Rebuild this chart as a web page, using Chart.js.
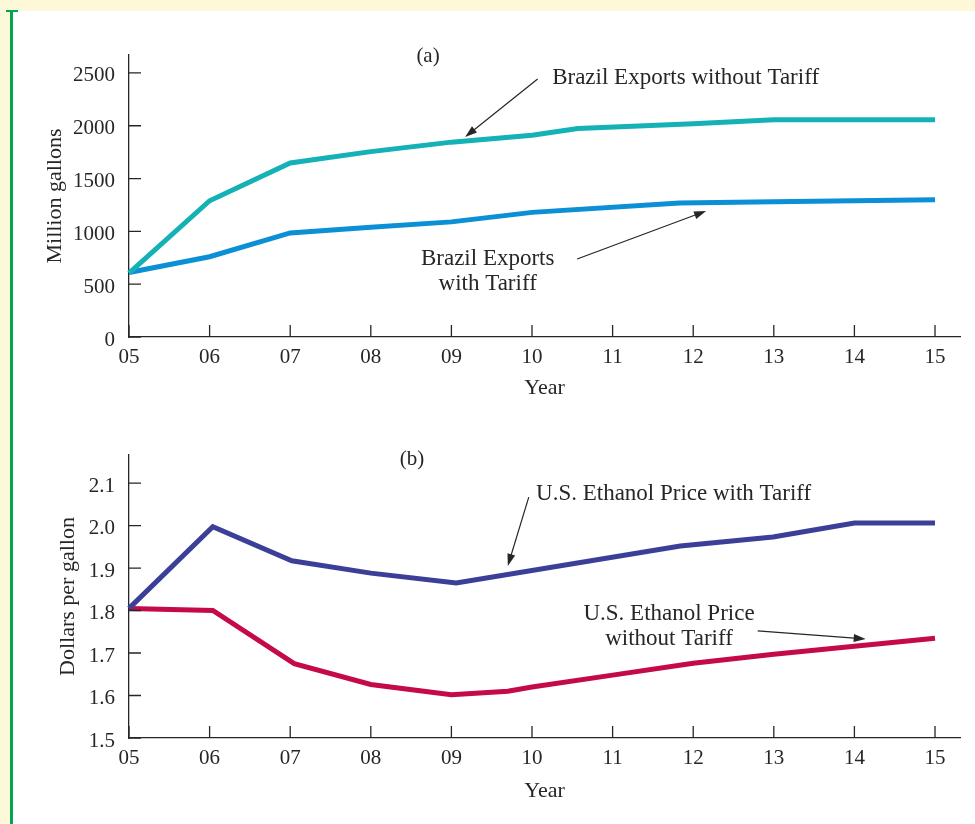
<!DOCTYPE html>
<html>
<head>
<meta charset="utf-8">
<script src="https://cdn.jsdelivr.net/npm/chart.js@4.4.0/dist/chart.umd.min.js"></script>
<style>
  html, body { margin: 0; padding: 0; }
  body { width: 975px; height: 824px; background: #fdf8d7; position: relative; overflow: hidden; }
  #panel { position: absolute; left: 13px; top: 11px; right: 0; bottom: 0; background: #fff; }
  #rule { position: absolute; left: 10px; top: 10px; width: 3px; bottom: 0; background: #00a651; }
  #cap { position: absolute; left: 6px; top: 10px; width: 12px; height: 2px; background: #00a651; }
  canvas { position: absolute; left: 0; }
  #chartA { top: 0; }
  #chartB { top: 412px; }
</style>
</head>
<body>
<div id="panel"></div>
<div id="rule"></div>
<div id="cap"></div>
<canvas id="chartA" width="975" height="412"></canvas>
<canvas id="chartB" width="975" height="412"></canvas>
<script>
// x axis: years 2005-2015
const yearTicks = [5, 6, 7, 8, 9, 10, 11, 12, 13, 14, 15];
const yearLabels = ["05", "06", "07", "08", "09", "10", "11", "12", "13", "14", "15"];

// (a) Brazil exports, million gallons
const exportTicks = [0, 500, 1000, 1500, 2000, 2500];
const noTariffYears = [5, 6, 7, 8, 9, 10, 10.57, 12, 13, 14, 15];
const noTariffExports = [605, 1290, 1648, 1755, 1845, 1910, 1975, 2020, 2058, 2058, 2058];
const tariffYears = [5, 6, 7, 8, 9, 10, 11.83, 13, 15];
const tariffExports = [610, 760, 985, 1040, 1090, 1180, 1268, 1280, 1300];

// (b) U.S. ethanol price, dollars per gallon
const priceTicks = [1.5, 1.6, 1.7, 1.8, 1.9, 2.0, 2.1];
const priceTariffYears = [5, 6.04, 7.02, 8, 9.06, 11.84, 12.99, 14, 15];
const priceTariff = [1.805, 1.997, 1.917, 1.888, 1.865, 1.952, 1.973, 2.006, 2.006];
const priceFreeYears = [5, 6.04, 7.05, 8, 9, 9.7, 10, 11, 12, 13, 14, 15];
const priceFree = [1.805, 1.8, 1.675, 1.626, 1.602, 1.61, 1.62, 1.648, 1.676, 1.697, 1.716, 1.735];

const FONT = "'Liberation Serif', 'Times New Roman', serif";
const INK = "#262626";

const pairs = (xs, ys) => xs.map((x, i) => ({ x: x, y: ys[i] }));

// tick marks point into the plot
const insideTicks = {
    id: "insideTicks",
    afterDraw(chart) {
        const { ctx, scales: { x, y }, chartArea: a } = chart;
        ctx.save();
        ctx.strokeStyle = INK;
        ctx.lineWidth = 1.3;
        ctx.beginPath();
        x.ticks.forEach(t => {
            const px = x.getPixelForValue(t.value);
            ctx.moveTo(px, a.bottom);
            ctx.lineTo(px, a.bottom - 12);
        });
        y.ticks.forEach(t => {
            const py = y.getPixelForValue(t.value);
            ctx.moveTo(a.left, py);
            ctx.lineTo(a.left + 12, py);
        });
        ctx.stroke();
        ctx.restore();
    }
};

// labels and arrows, placed in data units
function notes(texts, arrows) {
    return {
        id: "notes",
        afterDraw(chart) {
            const { ctx, scales: { x, y } } = chart;
            ctx.save();
            ctx.fillStyle = INK;
            ctx.strokeStyle = INK;
            ctx.textBaseline = "middle";
            texts.forEach(t => {
                ctx.font = (t.size || 23) + "px " + FONT;
                ctx.textAlign = t.align || "center";
                ctx.fillText(t.text, x.getPixelForValue(t.x), y.getPixelForValue(t.y));
            });
            arrows.forEach(a => {
                const x1 = x.getPixelForValue(a.from[0]), y1 = y.getPixelForValue(a.from[1]);
                const x2 = x.getPixelForValue(a.to[0]), y2 = y.getPixelForValue(a.to[1]);
                const ang = Math.atan2(y2 - y1, x2 - x1);
                ctx.lineWidth = 1.2;
                ctx.beginPath();
                ctx.moveTo(x1, y1);
                ctx.lineTo(x2 - 8 * Math.cos(ang), y2 - 8 * Math.sin(ang));
                ctx.stroke();
                ctx.beginPath();
                ctx.moveTo(x2, y2);
                ctx.lineTo(x2 - 12 * Math.cos(ang) + 4 * Math.sin(ang), y2 - 12 * Math.sin(ang) - 4 * Math.cos(ang));
                ctx.lineTo(x2 - 12 * Math.cos(ang) - 4 * Math.sin(ang), y2 - 12 * Math.sin(ang) + 4 * Math.cos(ang));
                ctx.closePath();
                ctx.fill();
            });
            ctx.restore();
        }
    };
}

function line(data, color) {
    return {
        data: data,
        borderColor: color,
        borderWidth: 5,
        pointRadius: 0,
        tension: 0,
        borderCapStyle: "butt",
        borderJoinStyle: "miter",
        clip: false
    };
}

function makeChart(id, opts) {
    return new Chart(document.getElementById(id), {
        type: "line",
        data: { datasets: opts.datasets },
        options: {
            responsive: false,
            animation: false,
            layout: { padding: { top: opts.top, right: 15, left: 0, bottom: 0 } },
            plugins: { legend: { display: false }, tooltip: { enabled: false } },
            scales: {
                x: {
                    type: "linear",
                    min: 5,
                    max: 15.31,
                    afterBuildTicks: s => { s.ticks = yearTicks.map(v => ({ value: v })); },
                    afterFit: s => { s.height = opts.xHeight; },
                    grid: { display: false, drawTicks: false },
                    border: { display: true, color: INK, width: 1.3 },
                    ticks: {
                        color: INK,
                        font: { family: FONT, size: 21 },
                        padding: 8,
                        maxRotation: 0,
                        callback: (v, i) => yearLabels[i]
                    },
                    title: {
                        display: true,
                        text: "Year",
                        color: INK,
                        font: { family: FONT, size: 22 },
                        padding: { top: 0, bottom: opts.yearPad }
                    }
                },
                y: {
                    min: opts.yMin,
                    max: opts.yMax,
                    afterBuildTicks: s => { s.ticks = opts.yTicks.map(v => ({ value: v })); },
                    afterFit: s => { s.width = 129; },
                    grid: { display: false, drawTicks: false },
                    border: { display: true, color: INK, width: 1.3 },
                    ticks: {
                        color: INK,
                        font: { family: FONT, size: 21 },
                        padding: 14,
                        labelOffset: 3,
                        callback: v => opts.yFormat(v)
                    },
                    title: {
                        display: true,
                        text: opts.yTitle,
                        color: INK,
                        font: { family: FONT, size: 22 },
                        padding: { top: opts.titlePad, bottom: 0 }
                    }
                }
            }
        },
        plugins: [insideTicks, notes(opts.texts, opts.arrows)]
    });
}

makeChart("chartA", {
    top: 55,
    xHeight: 75,
    yearPad: 11,
    titlePad: 42,
    yMin: 0,
    yMax: 2670,
    yTicks: exportTicks,
    yFormat: v => String(v),
    yTitle: "Million gallons",
    datasets: [
        line(pairs(noTariffYears, noTariffExports), "#14b1b6"),
        line(pairs(tariffYears, tariffExports), "#0b90d6")
    ],
    texts: [
        { text: "(a)", x: 8.71, y: 2660, size: 21 },
        { text: "Brazil Exports without Tariff", x: 10.25, y: 2453, align: "left" },
        { text: "Brazil Exports", x: 9.45, y: 739 },
        { text: "with Tariff", x: 9.45, y: 502 }
    ],
    arrows: [
        { from: [10.07, 2443], to: [9.17, 1894] },
        { from: [10.56, 739], to: [12.16, 1193] }
    ]
});

makeChart("chartB", {
    top: 43,
    xHeight: 86,
    yearPad: 20,
    titlePad: 55,
    yMin: 1.5,
    yMax: 2.166,
    yTicks: priceTicks,
    yFormat: v => v.toFixed(1),
    yTitle: "Dollars per gallon",
    datasets: [
        line(pairs(priceTariffYears, priceTariff), "#3b3f98"),
        line(pairs(priceFreeYears, priceFree), "#c40a4b")
    ],
    texts: [
        { text: "(b)", x: 8.51, y: 2.156, size: 21 },
        { text: "U.S. Ethanol Price with Tariff", x: 10.05, y: 2.074, align: "left" },
        { text: "U.S. Ethanol Price", x: 11.70, y: 1.792 },
        { text: "without Tariff", x: 11.70, y: 1.733 }
    ],
    arrows: [
        { from: [9.96, 2.067], to: [9.70, 1.905] },
        { from: [12.80, 1.752], to: [14.14, 1.733] }
    ]
});
</script>
</body>
</html>
